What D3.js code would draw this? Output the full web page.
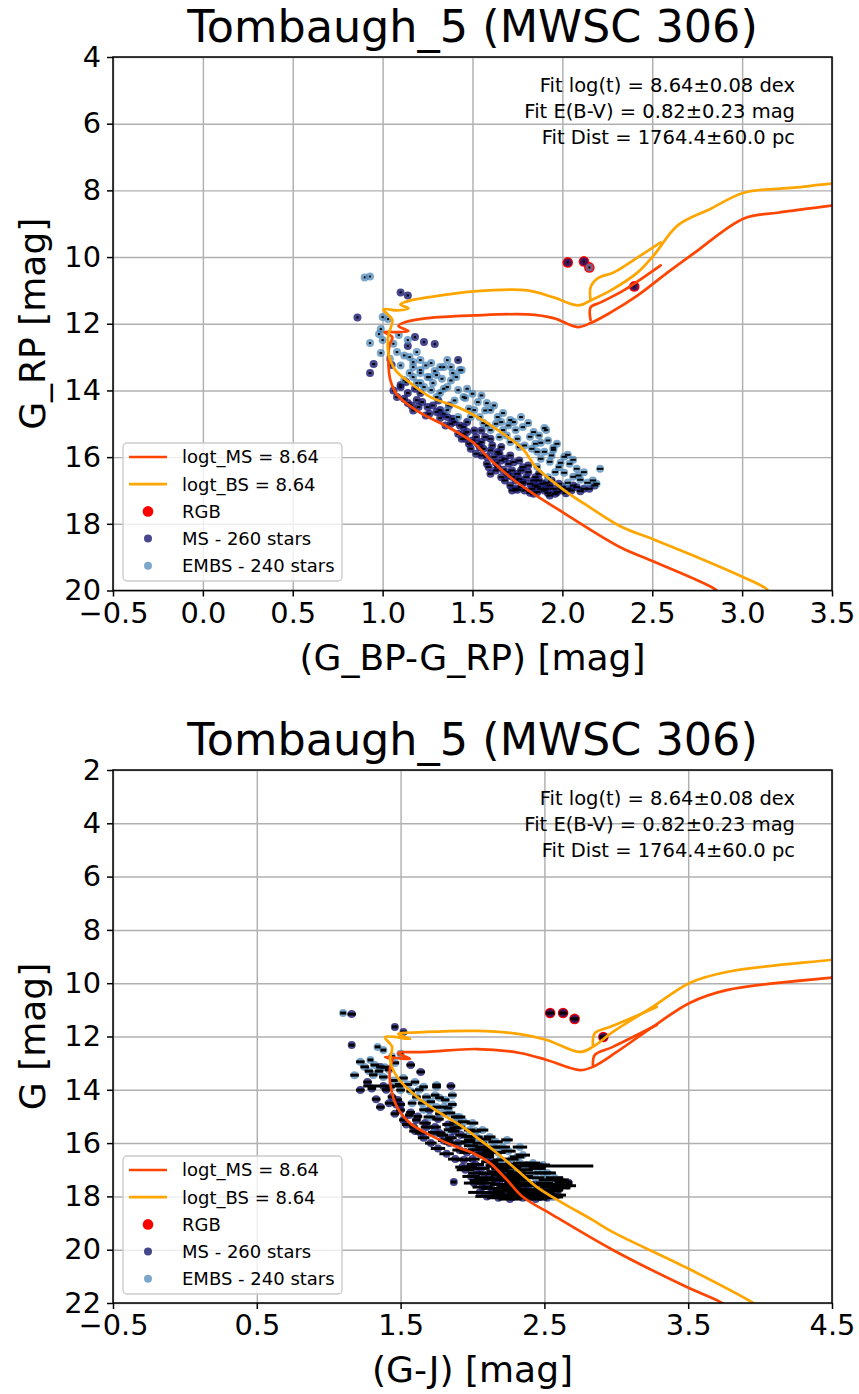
<!DOCTYPE html>
<html>
<head>
<meta charset="utf-8">
<script src="https://cdn.jsdelivr.net/npm/d3@7"></script>
<style>
  body { margin: 0; background: #fff; }
  text { font-family: "DejaVu Sans", sans-serif; }
</style>
</head>
<body>
<div id="chart"></div>
<script>
// ------------------- //
// DATA
// ------------------- //

var titleText = "Tombaugh_5 (MWSC 306)"
var fitLines = ["Fit log(t) = 8.64\u00b10.08 dex", "Fit E(B-V) = 0.82\u00b10.23 mag", "Fit Dist = 1764.4\u00b160.0 pc"]
var legendLabels = ["logt_MS = 8.64", "logt_BS = 8.64", "RGB", "MS - 260 stars", "EMBS - 240 stars"]

var topXTicks = [-0.5, 0.0, 0.5, 1.0, 1.5, 2.0, 2.5, 3.0, 3.5]
var topYTicks = [4, 6, 8, 10, 12, 14, 16, 18, 20]
var botXTicks = [-0.5, 0.5, 1.5, 2.5, 3.5, 4.5]
var botYTicks = [2, 4, 6, 8, 10, 12, 14, 16, 18, 20, 22]

// top panel: (G_BP-G_RP, G_RP)
var topIsoMS = [[2.88,20.12],[2.843,19.94],[2.508,19.13],[2.325,18.71],[2.007,17.67],[1.823,17.04],[1.728,16.68],[1.60,16.08],[1.506,15.57],[1.361,15.09],[1.194,14.62],[1.082,14.14],[1.043,13.69],[1.032,13.09],[1.038,12.64],[1.054,12.40],[1.010,12.25],[1.077,12.25],[1.143,12.22],[1.088,12.07],[1.127,11.95],[1.249,11.83],[1.506,11.75],[1.806,11.72],[1.951,11.83],[2.085,12.10],[2.157,11.98],[2.269,11.66],[2.419,11.15],[2.586,10.46],[2.731,9.89],[3.010,8.84],[3.199,8.67],[3.50,8.46],[3.72,8.31]]
var topIsoMSLoop = [[2.157,11.89],[2.157,11.51],[2.213,11.36],[2.341,11.00],[2.547,10.25]]
var topIsoBS = [[3.16,20.12],[3.132,19.94],[3.010,19.61],[2.714,18.92],[2.508,18.47],[2.325,18.08],[2.157,17.52],[2.007,16.98],[1.851,16.29],[1.784,15.78],[1.639,15.18],[1.528,14.80],[1.416,14.50],[1.266,14.20],[1.155,13.78],[1.071,13.39],[1.032,12.88],[1.032,12.34],[1.054,11.89],[1.004,11.57],[1.082,11.60],[1.143,11.54],[1.099,11.42],[1.155,11.30],[1.249,11.21],[1.506,11.03],[1.806,11.00],[1.951,11.21],[2.091,11.45],[2.157,11.30],[2.269,11.00],[2.419,10.46],[2.508,9.95],[2.642,9.05],[2.826,8.55],[3.010,8.07],[3.288,7.92],[3.494,7.80],[3.75,7.70]]
var topIsoBSLoop = [[2.157,11.30],[2.157,10.91],[2.196,10.64],[2.286,10.46],[2.419,10.01],[2.547,9.56]]

var topRGB = [[2.03,10.16],[2.12,10.13],[2.15,10.31],[2.40,10.88]]
// [colour, mag, colour error]
var topMS = [[1.10,11.06,.006],[1.14,11.15,.006],[0.86,11.81,.006],[0.95,13.21,.008],[0.93,13.48,.008],[1.05,13.24,.008],[1.18,12.40,.006],[1.23,12.55,.006],[1.29,12.61,.006],[1.42,13.09,.008],[1.14,12.67,.006],[1.10,13.84,.008],[1.06,14.00,.008],[1.14,14.38,.01],[1.21,14.08,.01],[1.32,14.59,.01],[1.10,13.90,.008],[1.14,14.08,.01],[1.19,14.29,.01],[1.25,14.50,.01],[1.30,14.65,.01],[1.36,14.80,.01],[1.32,14.83,.01],[1.45,15.10,.012],[1.52,15.40,.012],[1.54,15.70,.014],[1.58,15.99,.014],[1.63,16.17,.015],[1.67,16.38,.015],[1.72,16.59,.016],[1.78,16.77,.016],[1.86,16.89,.018],[1.91,16.77,.018],[2.00,16.89,.018],[1.75,16.98,.018],[1.82,17.07,.018],[1.45,15.30,.012],[1.50,15.50,.012],[1.55,15.55,.012],[1.60,15.80,.014],[1.62,16.00,.014],[1.65,15.90,.014],[1.70,16.20,.015],[1.72,16.40,.015],[1.75,16.50,.016],[1.78,16.30,.015],[1.80,16.60,.016],[1.82,16.80,.017],[1.85,16.60,.016],[1.88,16.95,.018],[1.90,17.00,.018],[1.93,16.85,.018],[1.95,16.95,.018],[1.97,17.05,.018],[2.00,17.00,.018],[2.03,16.95,.018],[2.05,17.00,.018],[2.08,16.90,.018],[1.68,16.70,.016],[1.77,16.90,.017],[1.84,17.10,.018],[1.58,16.20,.015],[1.48,15.60,.013],[1.42,15.30,.012],[1.38,15.00,.011],[1.26,14.70,.01],[1.20,14.50,.01],[1.17,14.60,.01],[1.52,15.90,.014],[1.60,16.50,.015],[2.03,10.16,.005],[2.12,10.13,.005],[2.40,10.88,.005],[1.40,14.95,.011],[1.46,15.45,.012],[1.56,15.75,.013],[1.66,16.10,.014],[1.74,16.70,.016],[1.87,16.70,.017],[1.92,17.08,.018],[1.98,16.80,.018],[2.10,17.02,.018],[2.15,16.95,.018],
  [1.08,14.2,.009],[1.12,14.25,.01],[1.16,14.45,.01],[1.22,14.35,.01],[1.24,14.75,.01],[1.28,14.45,.01],[1.34,14.7,.01],[1.35,15.05,.011],[1.39,14.85,.011],[1.43,15.05,.012],[1.44,15.45,.012],[1.47,15.25,.012],[1.49,15.75,.013],[1.51,15.2,.012],[1.53,15.6,.013],[1.55,15.95,.014],[1.57,15.4,.013],[1.59,16.3,.015],[1.61,15.65,.014],[1.63,16.4,.015],[1.64,15.85,.014],[1.66,16.6,.015],[1.68,16.05,.015],[1.69,16.45,.015],[1.71,16.85,.016],[1.73,16.15,.015],[1.74,16.95,.017],[1.76,16.65,.016],[1.77,16.4,.016],[1.79,17.0,.017],[1.81,16.45,.016],[1.83,16.95,.017],[1.84,16.7,.017],[1.86,17.05,.018],[1.87,16.5,.017],[1.89,16.8,.017],[1.91,16.95,.018],[1.94,16.7,.018],[1.96,17.1,.018],[1.99,16.95,.018],[2.02,17.08,.018],[2.06,16.85,.018],[2.12,16.95,.018],[2.18,16.85,.018],[1.47,14.95,.011],[1.37,14.45,.01],[1.31,14.3,.01],[1.18,13.95,.009],[1.13,13.75,.008],[1.55,15.2,.012],[1.60,15.45,.013],[1.66,15.7,.014],[1.71,15.95,.014],[1.76,16.1,.015],[1.81,16.25,.016],[1.70,16.55,.016],[1.64,16.3,.015],[1.78,16.75,.016],[1.93,17.15,.018],[1.72,17.0,.017],[1.85,16.85,.017]]
var topEMBS = [[0.90,10.61,.005],[0.93,10.58,.005],[1.00,11.80,.006],[1.03,11.86,.006],[0.99,12.16,.006],[1.00,12.49,.006],[0.98,12.31,.006],[0.93,12.58,.006],[0.99,12.88,.007],[1.08,12.85,.007],[1.14,12.49,.006],[1.09,12.34,.006],[1.15,13.00,.007],[1.19,12.85,.007],[1.21,13.09,.007],[1.27,13.18,.007],[1.17,13.30,.007],[1.15,13.48,.008],[1.21,13.48,.008],[1.25,13.60,.008],[1.30,13.54,.008],[1.36,13.09,.007],[1.34,13.30,.008],[1.39,13.48,.008],[1.44,13.39,.008],[1.28,13.78,.008],[1.21,13.78,.008],[1.12,13.69,.008],[1.36,13.90,.009],[1.42,13.99,.009],[1.45,14.20,.01],[1.32,14.08,.009],[1.46,14.23,.01],[1.58,14.38,.01],[1.51,14.59,.01],[1.60,14.59,.01],[1.64,14.80,.011],[1.67,14.68,.011],[1.71,14.89,.011],[1.77,14.80,.011],[1.81,14.98,.012],[1.90,15.13,.012],[1.74,15.19,.012],[1.82,15.39,.013],[1.88,15.57,.013],[1.95,15.78,.014],[2.01,15.99,.015],[1.67,15.19,.012],[1.60,15.19,.012],[1.56,14.98,.011],[1.49,14.80,.011],[1.42,14.80,.011],[1.36,14.59,.01],[1.30,14.20,.01],[1.27,13.99,.009],[1.23,13.90,.009],[1.19,13.78,.008],[1.17,13.60,.008],[1.21,13.39,.008],[1.32,13.30,.008],[1.38,13.30,.008],[1.43,13.39,.008],[1.91,15.19,.012],[1.95,15.72,.014],[1.90,15.84,.014],[1.86,15.84,.014],[2.03,15.93,.015],[2.06,16.08,.015],[1.99,16.17,.015],[2.21,16.35,.018],[2.06,16.59,.016],[2.10,16.68,.017],[2.14,16.77,.018],[1.93,16.14,.015],[1.86,16.29,.015],[2.01,16.47,.016],[2.03,16.77,.017],[1.99,16.89,.018],[2.15,10.31,.005],
  [1.24,13.25,.008],[1.29,13.42,.008],[1.33,13.65,.008],[1.38,13.7,.009],[1.41,13.6,.009],[1.47,13.95,.009],[1.50,14.1,.01],[1.53,14.35,.01],[1.55,14.15,.01],[1.57,14.6,.01],[1.62,14.45,.01],[1.63,15.0,.011],[1.66,14.95,.011],[1.69,15.35,.012],[1.70,15.05,.012],[1.73,14.95,.011],[1.75,15.45,.013],[1.78,15.1,.012],[1.79,15.65,.013],[1.84,15.25,.013],[1.85,15.6,.013],[1.87,15.35,.013],[1.92,15.5,.013],[1.94,15.95,.014],[1.97,15.6,.014],[1.98,16.3,.015],[2.04,16.2,.015],[2.08,16.35,.016],[2.09,16.55,.016],[2.12,16.45,.016],[2.17,16.7,.017],[2.19,16.8,.018],[1.96,16.45,.016],[1.92,16.6,.016],[1.88,16.05,.015],[1.83,15.75,.014],[1.76,15.7,.013],[1.71,15.55,.013],[1.65,15.4,.012],[1.58,15.05,.011],[1.54,14.8,.011],[1.48,14.55,.01],[1.40,14.3,.01],[1.34,13.95,.009],[1.26,13.6,.008],[1.17,13.15,.007],[1.12,12.95,.007],[1.06,12.6,.006],[1.04,13.05,.007],[1.10,13.25,.007]]

// bottom panel: (G-J, G)
var botIsoMS = [[3.753,22.11],[3.733,21.99],[3.490,21.40],[2.976,20.01],[2.559,18.70],[2.351,18.02],[2.240,17.38],[2.122,16.75],[2.003,16.37],[1.892,16.15],[1.705,15.70],[1.566,15.25],[1.476,14.65],[1.427,13.74],[1.427,13.14],[1.441,12.88],[1.392,12.77],[1.483,12.81],[1.566,12.84],[1.483,12.62],[1.684,12.58],[2.031,12.47],[2.330,12.62],[2.517,12.88],[2.747,13.26],[2.837,13.14],[3.003,12.58],[3.253,11.64],[3.510,10.74],[3.767,10.26],[4.483,9.80],[4.760,9.69]]
var botIsoMSLoop = [[2.837,13.07],[2.851,12.69],[2.976,12.39],[3.281,11.57]]
var botIsoBS = [[3.976,22.11],[3.948,21.99],[3.490,20.68],[2.976,19.34],[2.837,18.89],[2.628,18.25],[2.448,17.65],[2.309,17.01],[2.170,16.37],[2.052,15.88],[1.934,15.40],[1.774,14.87],[1.615,14.27],[1.476,13.52],[1.427,12.88],[1.441,12.39],[1.392,12.02],[1.566,12.09],[1.483,11.91],[1.684,11.83],[2.031,11.79],[2.330,11.91],[2.517,12.13],[2.747,12.58],[2.837,12.39],[2.976,11.83],[3.253,10.89],[3.510,9.99],[3.767,9.58],[4.483,9.13],[4.760,8.98]]
var botIsoBSLoop = [[2.837,12.32],[2.851,11.87],[2.955,11.64],[3.073,11.38],[3.281,10.89]]

var botRGB = [[2.54,11.12],[2.63,11.12],[2.71,11.34],[2.91,12.02]]
var botMS = [[1.16,11.16,.03],[1.46,11.64,.02],[1.52,11.83,.02],[1.16,12.32,.02],[1.36,13.14,.03],[1.57,13.07,.03],[1.64,13.33,.03],[1.27,13.71,.03],[1.22,14.01,.03],[1.85,13.86,.03],[1.38,13.86,.14],[2.47,16.86,.37],[1.36,14.65,.03],[1.50,14.76,.03],[1.52,15.13,.03],[1.59,15.40,.03],[1.64,15.62,.04],[1.44,14.27,.03],[1.48,14.38,.03],[1.61,15.13,.03],[1.68,15.40,.04],[1.77,15.62,.04],[1.84,16.00,.04],[1.91,16.26,.05],[1.94,16.63,.05],[1.98,16.90,.05],[2.03,17.12,.06],[2.01,17.50,.07],[2.07,17.65,.07],[2.14,17.87,.08],[2.21,17.95,.08],[2.28,18.02,.08],[2.40,18.02,.08],[2.17,17.38,.07],[2.24,17.65,.07],[2.31,17.76,.08],[2.10,16.52,.05],[2.21,16.90,.06],[2.31,17.12,.06],[2.45,17.76,.07],[2.52,17.95,.08],[2.59,17.95,.06],[1.87,17.46,.02],[2.67,17.50,.02],[1.70,14.76,.03],[1.88,15.43,.04],[1.98,15.88,.04],[2.09,16.26,.05],[2.16,17.08,.06],[2.36,17.50,.07],[2.47,18.02,.08],[2.54,11.12,.03],[2.63,11.12,.03],[2.71,11.34,.03],[2.91,12.02,.03],[2.05,16.40,.05],[2.12,16.70,.06],[2.20,17.20,.07],[2.26,17.40,.07],[2.33,17.30,.07],[2.38,17.60,.07],[2.08,17.30,.07],[1.95,17.00,.06],[2.00,16.60,.05],[2.25,16.80,.06],[2.30,17.95,.08],[2.35,18.05,.08],[2.18,18.05,.08],[1.80,15.90,.04],[1.73,15.60,.04],[1.56,14.95,.03],[1.47,14.55,.03],
  [1.40,14.0,.03],[1.42,14.5,.03],[1.46,14.9,.03],[1.50,14.55,.03],[1.54,15.3,.03],[1.57,14.85,.03],[1.60,15.55,.04],[1.62,15.0,.03],[1.66,15.8,.04],[1.67,15.25,.04],[1.71,16.0,.04],[1.74,15.4,.04],[1.76,16.2,.05],[1.79,15.7,.04],[1.82,16.4,.05],[1.85,15.8,.04],[1.88,16.6,.05],[1.90,16.0,.05],[1.93,16.9,.05],[1.96,16.35,.05],[1.99,17.25,.06],[2.02,16.8,.06],[2.04,17.4,.06],[2.06,16.95,.06],[2.09,17.5,.07],[2.11,17.15,.07],[2.13,17.7,.07],[2.15,17.35,.07],[2.19,17.55,.07],[2.22,17.8,.08],[2.24,17.3,.07],[2.27,17.7,.07],[2.29,17.5,.07],[2.32,17.85,.08],[2.34,17.6,.07],[2.37,17.9,.08],[2.39,17.75,.08],[2.42,17.95,.08],[2.44,17.55,.07],[2.49,17.85,.08],[2.55,17.8,.07],[2.58,17.65,.06],[2.15,16.85,.06],[2.19,16.95,.06],[2.23,17.05,.06],[2.28,17.2,.07],[2.35,17.25,.07],[2.12,16.35,.05],[2.07,16.15,.05],[2.02,16.25,.05],[1.97,15.95,.05],[1.92,15.7,.04],[1.87,15.55,.04],[1.83,15.3,.04],[1.76,15.1,.04],[2.05,17.85,.08],[2.10,18.0,.08],[2.26,18.1,.08],[2.44,18.1,.08],[2.52,18.05,.07],[1.33,14.35,.03],[1.30,13.95,.03]]
var botEMBS = [[1.10,11.12,.02],[1.34,12.39,.02],[1.38,12.51,.02],[1.29,12.88,.02],[1.25,13.14,.03],[1.32,13.07,.03],[1.31,13.44,.03],[1.38,13.52,.03],[1.52,13.56,.03],[1.60,13.71,.03],[1.66,13.89,.03],[1.75,13.89,.03],[1.68,14.27,.03],[1.81,14.38,.03],[1.86,14.20,.03],[1.83,14.68,.03],[1.89,15.02,.04],[1.75,13.82,.03],[1.80,14.65,.03],[1.84,14.87,.04],[1.91,15.02,.04],[2.00,15.25,.04],[1.98,15.51,.04],[2.07,15.51,.04],[2.12,15.77,.04],[2.03,15.77,.04],[2.24,15.88,.04],[2.33,16.15,.05],[2.21,16.15,.05],[2.14,16.15,.05],[2.31,16.52,.05],[2.38,16.82,.05],[2.42,16.82,.06],[2.49,17.12,.06],[2.40,17.12,.06],[2.52,17.38,.06],[2.61,17.38,.06],[2.63,17.57,.06],[1.46,12.99,.03],[1.43,13.89,.03],[1.50,14.01,.03],[1.61,14.27,.03],[1.74,14.20,.03],[1.75,14.65,.03],[1.70,15.02,.04],[1.91,15.40,.04],[1.73,15.62,.04],[1.82,15.88,.04],[2.19,16.63,.05],[2.28,16.93,.06],[2.47,17.57,.07],[2.56,17.76,.07],[2.33,17.38,.06],[2.33,16.75,.05],[2.42,16.75,.05],[2.49,16.82,.05],[2.52,17.12,.06],[2.63,17.46,.06],[2.54,17.65,.07],[2.61,17.68,.07],[2.56,18.02,.07],[2.47,17.87,.07],
  [1.28,13.3,.03],[1.35,13.3,.03],[1.42,13.25,.03],[1.45,13.65,.03],[1.55,13.8,.03],[1.57,14.05,.03],[1.63,14.0,.03],[1.65,14.5,.03],[1.71,14.45,.03],[1.77,14.3,.03],[1.78,14.9,.04],[1.86,14.55,.03],[1.88,15.25,.04],[1.94,15.2,.04],[1.96,15.75,.04],[2.02,15.55,.04],[2.05,16.0,.05],[2.09,15.85,.04],[2.16,15.95,.05],[2.18,16.35,.05],[2.25,16.3,.05],[2.27,16.6,.05],[2.35,16.45,.05],[2.36,17.0,.06],[2.45,16.95,.06],[2.44,17.3,.06],[2.50,17.5,.06],[2.57,17.3,.06],[2.58,17.55,.06],[2.66,17.6,.06],[2.50,17.95,.07],[2.40,17.55,.07],[2.30,17.15,.06],[2.20,16.8,.06],[2.10,16.45,.05],[1.99,16.1,.05],[1.84,15.5,.04],[1.66,14.75,.03],[1.58,14.5,.03],[1.49,13.8,.03],[1.39,13.15,.03],[1.22,12.95,.03],[1.18,13.45,.03],[1.44,12.75,.02],[1.50,12.65,.02]]


// ------------------- //
// SETUP
// ------------------- //

var W = 859, H = 1394
var left = 113, right = 832

var svg = d3.select("#chart")
  .append("svg")
    .attr("width", W)
    .attr("height", H)

var colMS = "#ff4500", colBS = "#ffa500"

var panels = [
  { id: "top", top: 57, bottom: 590.5, xDomain: [-0.5, 3.5], yDomain: [4, 20],
    xTicks: topXTicks, yTicks: topYTicks, xLabel: "(G_BP-G_RP) [mag]", yLabel: "G_RP [mag]",
    isoMS: [topIsoMS, topIsoMSLoop], isoBS: [topIsoBS, topIsoBSLoop],
    rgb: topRGB, ms: topMS, embs: topEMBS, errW: 2, legendTop: 443 },
  { id: "bot", top: 770, bottom: 1303, xDomain: [-0.5, 4.5], yDomain: [2, 22],
    xTicks: botXTicks, yTicks: botYTicks, xLabel: "(G-J) [mag]", yLabel: "G [mag]",
    isoMS: [botIsoMS, botIsoMSLoop], isoBS: [botIsoBS, botIsoBSLoop],
    rgb: botRGB, ms: botMS, embs: botEMBS, errW: 3, legendTop: 1156 }
]

panels.forEach(drawPanel)


// ------------------- //
// PANEL
// ------------------- //

function drawPanel(p) {
  var x = d3.scaleLinear().domain(p.xDomain).range([left, right])
  var y = d3.scaleLinear().domain(p.yDomain).range([p.top, p.bottom])
  var h = p.bottom - p.top

  svg.append("clipPath").attr("id", "clip-" + p.id)
    .append("rect")
      .attr("x", left).attr("y", p.top)
      .attr("width", right - left).attr("height", h)

  // grid
  var gx = svg.append("g")
    .attr("transform", "translate(0," + p.bottom + ")")
    .call(d3.axisBottom(x).tickValues(p.xTicks).tickSize(-h).tickFormat(""))
  var gy = svg.append("g")
    .attr("transform", "translate(" + left + ",0)")
    .call(d3.axisLeft(y).tickValues(p.yTicks).tickSize(-(right - left)).tickFormat(""))
  ;[gx, gy].forEach(function(g) {
    g.select(".domain").remove()
    g.selectAll("line").attr("stroke", "#b0b0b0").attr("stroke-width", 1.45)
  })

  var plot = svg.append("g").attr("clip-path", "url(#clip-" + p.id + ")")

  // stars: RGB first, MS and EMBS drawn over them
  plot.selectAll(".rgb")
    .data(p.rgb)
    .enter()
    .append("circle")
      .attr("cx", function(d) { return x(d[0]) })
      .attr("cy", function(d) { return y(d[1]) })
      .attr("r", 5.3)
      .style("fill", "red")

  plot.selectAll(".ms")
    .data(p.ms)
    .enter()
    .append("circle")
      .attr("cx", function(d) { return x(d[0]) })
      .attr("cy", function(d) { return y(d[1]) })
      .attr("r", 4)
      .style("fill", "#191970")
      .style("opacity", 0.8)

  plot.selectAll(".embs")
    .data(p.embs)
    .enter()
    .append("circle")
      .attr("cx", function(d) { return x(d[0]) })
      .attr("cy", function(d) { return y(d[1]) })
      .attr("r", 4)
      .style("fill", "#4682b4")
      .style("opacity", 0.7)

  // colour error bars
  plot.selectAll(".err")
    .data(p.ms.concat(p.embs))
    .enter()
    .append("line")
      .attr("x1", function(d) { return x(d[0] - d[2]) })
      .attr("x2", function(d) { return x(d[0] + d[2]) })
      .attr("y1", function(d) { return y(d[1]) })
      .attr("y2", function(d) { return y(d[1]) })
      .attr("stroke", "#000")
      .attr("stroke-width", p.errW)

  // isochrones
  var line = d3.line()
    .curve(d3.curveCatmullRom.alpha(0.5))
    .x(function(d) { return x(d[0]) })
    .y(function(d) { return y(d[1]) })
  p.isoMS.forEach(function(seg) {
    plot.append("path").attr("d", line(seg))
      .attr("fill", "none").attr("stroke", colMS).attr("stroke-width", 2.7)
      .attr("stroke-linejoin", "round").attr("stroke-linecap", "round")
  })
  p.isoBS.forEach(function(seg) {
    plot.append("path").attr("d", line(seg))
      .attr("fill", "none").attr("stroke", colBS).attr("stroke-width", 2.7)
      .attr("stroke-linejoin", "round").attr("stroke-linecap", "round")
  })

  // frame
  svg.append("rect")
    .attr("x", left).attr("y", p.top)
    .attr("width", right - left).attr("height", h)
    .attr("fill", "none").attr("stroke", "#000").attr("stroke-width", 1.5)

  // axes
  var ax = svg.append("g")
    .attr("transform", "translate(0," + p.bottom + ")")
    .call(d3.axisBottom(x).tickValues(p.xTicks).tickSize(6).tickPadding(6).tickFormat(d3.format(".1f")))
  var ay = svg.append("g")
    .attr("transform", "translate(" + left + ",0)")
    .call(d3.axisLeft(y).tickValues(p.yTicks).tickSize(6).tickPadding(6).tickFormat(d3.format("d")))
  ;[ax, ay].forEach(function(g) {
    g.select(".domain").remove()
    g.selectAll("line").attr("stroke", "#000").attr("stroke-width", 1.5)
    g.selectAll("text").style("font-size", "28.8px").attr("fill", "#000")
      .style("font-family", "'DejaVu Sans', sans-serif")
  })

  // labels
  svg.append("text")
    .attr("x", (left + right) / 2)
    .attr("y", p.bottom + 79)
    .attr("text-anchor", "middle")
    .style("font-size", "36px")
    .text(p.xLabel)
  svg.append("text")
    .attr("transform", "translate(45," + (p.top + h / 2) + ") rotate(-90)")
    .attr("text-anchor", "middle")
    .style("font-size", "36px")
    .text(p.yLabel)

  // title
  svg.append("text")
    .attr("x", (left + right) / 2)
    .attr("y", p.top - 15)
    .attr("text-anchor", "middle")
    .style("font-size", "44.5px")
    .text(titleText)

  // fit results
  svg.selectAll(".fit-" + p.id)
    .data(fitLines)
    .enter()
    .append("text")
      .attr("x", 795)
      .attr("y", function(d, i) { return p.top + 35 + i * 25.8 })
      .attr("text-anchor", "end")
      .style("font-size", "19.5px")
      .text(function(d) { return d })

  // legend
  var lg = svg.append("g").attr("transform", "translate(123," + p.legendTop + ")")
  lg.append("rect")
    .attr("width", 219).attr("height", 138).attr("rx", 4)
    .attr("fill", "#fff").attr("fill-opacity", 0.8)
    .attr("stroke", "#cccccc").attr("stroke-width", 1.4)
  legendLabels.forEach(function(lab, i) {
    var cy = 14 + i * 27.2
    if (i < 2) {
      lg.append("line")
        .attr("x1", 6).attr("x2", 44).attr("y1", cy).attr("y2", cy)
        .attr("stroke", i == 0 ? colMS : colBS).attr("stroke-width", 2.7)
    } else {
      lg.append("circle")
        .attr("cx", 25).attr("cy", cy)
        .attr("r", i == 2 ? 5.3 : 4)
        .style("fill", i == 2 ? "red" : (i == 3 ? "#191970" : "#4682b4"))
        .style("opacity", i == 2 ? 1 : (i == 3 ? 0.8 : 0.7))
    }
    lg.append("text")
      .attr("x", 59).attr("y", cy)
      .attr("dy", "0.36em")
      .style("font-size", "18px")
      .text(lab)
  })
}
</script>
</body>
</html>
